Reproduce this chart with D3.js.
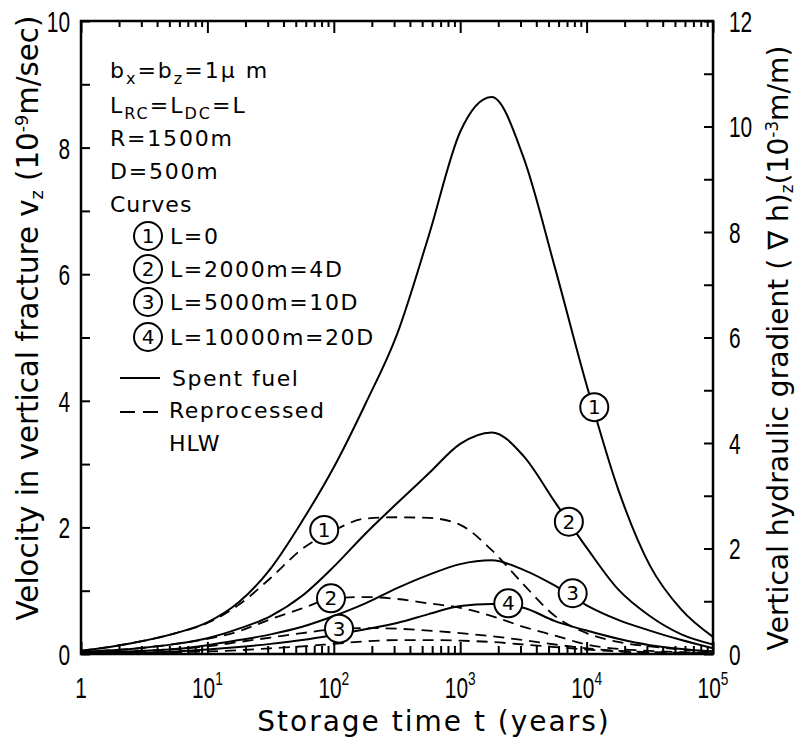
<!DOCTYPE html>
<html>
<head>
<meta charset="utf-8">
<script src="https://cdn.jsdelivr.net/npm/d3@7"></script>
<style>
  html, body { margin: 0; padding: 0; background: #fff; }
  svg { display: block; }
  text { fill: #000; }
</style>
</head>
<body>
<svg id="chart" width="797" height="746"></svg>
<script>
// ---------------- DATA ----------------
// Storage time t (years), log-spaced grid from 1 to 1e5
const timeYears = [1, 1.778, 3.162, 5.623, 10, 17.78, 31.62, 56.23, 100, 177.8, 316.2, 562.3,
                   1000, 1778, 3162, 5623, 10000, 17780, 31620, 56230, 100000];
// Velocity v_z (1e-9 m/s) - Spent fuel (solid)
const spentFuel1 = [0.05, 0.12, 0.21, 0.33, 0.50, 0.82, 1.35, 2.10, 2.95, 3.95, 5.05, 6.60, 8.25, 8.80, 7.85, 6.10, 4.25, 2.60, 1.40, 0.70, 0.27];
const spentFuel2 = [0.04, 0.06, 0.10, 0.16, 0.25, 0.40, 0.60, 0.92, 1.38, 1.90, 2.38, 2.85, 3.32, 3.50, 3.13, 2.40, 1.68, 1.02, 0.60, 0.31, 0.15];
const spentFuel3 = [0.02, 0.03, 0.05, 0.08, 0.14, 0.22, 0.31, 0.43, 0.60, 0.80, 1.04, 1.25, 1.42, 1.48, 1.33, 1.08, 0.77, 0.54, 0.37, 0.22, 0.09];
const spentFuel4 = [0.01, 0.015, 0.02, 0.04, 0.07, 0.11, 0.16, 0.22, 0.30, 0.39, 0.49, 0.63, 0.76, 0.79, 0.73, 0.52, 0.37, 0.24, 0.14, 0.08, 0.04];
// Reprocessed HLW (dashed)
const hlw1 = [0.05, 0.12, 0.21, 0.33, 0.49, 0.78, 1.20, 1.66, 1.95, 2.14, 2.16, 2.15, 2.04, 1.64, 1.10, 0.60, 0.33, 0.19, 0.12, 0.07, 0.04];
const hlw2 = [0.04, 0.06, 0.10, 0.16, 0.24, 0.36, 0.55, 0.72, 0.88, 0.90, 0.87, 0.80, 0.73, 0.60, 0.43, 0.29, 0.15, 0.08, 0.05, 0.03, 0.02];
const hlw3 = [0.02, 0.03, 0.05, 0.08, 0.12, 0.19, 0.26, 0.33, 0.39, 0.41, 0.40, 0.37, 0.33, 0.28, 0.22, 0.15, 0.09, 0.05, 0.03, 0.02, 0.01];
const hlw4 = [0.01, 0.01, 0.02, 0.03, 0.04, 0.06, 0.09, 0.12, 0.16, 0.20, 0.22, 0.22, 0.21, 0.19, 0.15, 0.11, 0.07, 0.04, 0.02, 0.01, 0.01];

// curve label markers: [curve number, t, v]
const solidLabels = [[1, 11500, 3.9], [2, 7240, 2.09], [3, 7760, 0.96], [4, 2400, 0.8]];
const dashedLabels = [[1, 84, 1.96], [2, 95, 0.88], [3, 110, 0.4]];

// axis ticks
const xDecades = [1, 10, 100, 1000, 10000, 100000];
const xDecadeExp = [0, 1, 2, 3, 4, 5];
const yLeftTicks = [0, 1, 2, 3, 4, 5, 6, 7, 8, 9, 10];
const yLeftLabels = [0, 2, 4, 6, 8, 10];
const yRightTicks = [0, 1, 2, 3, 4, 5, 6, 7, 8, 9, 10, 11, 12];
const yRightLabels = [0, 2, 4, 6, 8, 10, 12];

// legend / annotations text
const curveDefs = ["L=0", "L=2000m=4D", "L=5000m=10D", "L=10000m=20D"];

// ---------------- DRAW ----------------
const svg = d3.select("#chart");
const X0 = 81, X1 = 713, Y0 = 654, Y1 = 21;
const x = d3.scaleLog().domain([1, 1e5]).range([X0, X1]);
const y = d3.scaleLinear().domain([0, 10]).range([Y0, Y1]);
const yR = d3.scaleLinear().domain([0, 12]).range([Y0, Y1]);

const numFont = "'Liberation Sans', Arial, sans-serif";
const txtFont = "'DejaVu Sans', 'Liberation Sans', sans-serif";
const NARROW = 0.72;

// minor ticks for log axis
const minorTicks = [];
for (let e = 0; e < 5; e++) for (let m = 2; m <= 9; m++) minorTicks.push(m * Math.pow(10, e));

function styleAxis(g) {
  g.select(".domain").remove();
  g.selectAll("line").attr("stroke", "#000").attr("stroke-width", 2);
}
// bottom inward ticks
svg.append("g").attr("transform", `translate(0,${Y0})`)
  .call(d3.axisTop(x).tickValues(xDecades).tickSize(12).tickFormat("")).call(styleAxis);
svg.append("g").attr("transform", `translate(0,${Y0})`)
  .call(d3.axisTop(x).tickValues(minorTicks).tickSize(8).tickFormat("")).call(styleAxis);
// top inward ticks
svg.append("g").attr("transform", `translate(0,${Y1})`)
  .call(d3.axisBottom(x).tickValues(xDecades).tickSize(12).tickFormat("")).call(styleAxis);
svg.append("g").attr("transform", `translate(0,${Y1})`)
  .call(d3.axisBottom(x).tickValues(minorTicks).tickSize(6).tickFormat("")).call(styleAxis);
// left inward ticks
svg.append("g").attr("transform", `translate(${X0},0)`)
  .call(d3.axisRight(y).tickValues(yLeftTicks).tickSize(9).tickFormat("")).call(styleAxis);
// right inward ticks
svg.append("g").attr("transform", `translate(${X1},0)`)
  .call(d3.axisLeft(yR).tickValues(yRightTicks).tickSize(9).tickFormat("")).call(styleAxis);

// left labels (tall, narrow digits)
svg.append("g").attr("transform", `translate(${X0},0)`)
  .call(d3.axisLeft(y).tickValues(yLeftLabels).tickSize(0).tickPadding(0).tickFormat(d3.format("d")))
  .call(g => { g.select(".domain").remove();
    g.selectAll("text").attr("font-family", numFont).attr("font-size", 29).attr("fill", "#000")
      .attr("x", -11 / NARROW).attr("dy", "0.36em").attr("transform", `scale(${NARROW},1)`); });
// right labels
svg.append("g").attr("transform", `translate(${X1},0)`)
  .call(d3.axisRight(yR).tickValues(yRightLabels).tickSize(0).tickPadding(0).tickFormat(d3.format("d")))
  .call(g => { g.select(".domain").remove();
    g.selectAll("text").attr("font-family", numFont).attr("font-size", 29).attr("fill", "#000")
      .attr("x", 16 / NARROW).attr("dy", "0.36em").attr("transform", `scale(${NARROW},1)`); });
// bottom labels with superscripts
const xl = svg.append("g").attr("font-family", numFont).attr("font-size", 29);
xDecades.forEach((d, i) => {
  const t = xl.append("text").attr("x", x(d) / NARROW).attr("y", Y0 + 44)
    .attr("text-anchor", "middle").attr("transform", `scale(${NARROW},1)`);
  if (xDecadeExp[i] === 0) { t.text("1"); }
  else {
    t.append("tspan").text("10");
    t.append("tspan").attr("dy", -13).attr("font-size", 19).text(xDecadeExp[i]);
  }
});

// frame
svg.append("rect").attr("x", X0).attr("y", Y1).attr("width", X1 - X0).attr("height", Y0 - Y1)
  .attr("fill", "none").attr("stroke", "#000").attr("stroke-width", 2.5);

// curves
const line = d3.line().x(d => x(d[0])).y(d => y(d[1])).curve(d3.curveMonotoneX);
const solid = [spentFuel1, spentFuel2, spentFuel3, spentFuel4];
const dashed = [hlw1, hlw2, hlw3, hlw4];
const cg = svg.append("g").attr("fill", "none").attr("stroke", "#000");
dashed.forEach(s => cg.append("path").datum(timeYears.map((t, i) => [t, s[i]]))
  .attr("d", line).attr("stroke-width", 1.8).attr("stroke-dasharray", "11,7"));
solid.forEach(s => cg.append("path").datum(timeYears.map((t, i) => [t, s[i]]))
  .attr("d", line).attr("stroke-width", 2));

// curve markers
function marker(g, cx, cy, n) {
  g.append("circle").attr("cx", cx).attr("cy", cy).attr("r", 14)
    .attr("fill", "#fff").attr("stroke", "#000").attr("stroke-width", 2);
  g.append("text").attr("x", cx).attr("y", cy + 7).attr("text-anchor", "middle")
    .attr("font-family", txtFont).attr("font-size", 20).attr("letter-spacing", 0).text(n);
}
const mg = svg.append("g");
solidLabels.concat(dashedLabels).forEach(d => marker(mg, x(d[1]), y(d[2]), d[0]));

// annotation block
const ann = svg.append("g").attr("font-family", txtFont).attr("font-size", 22);
function addText(xp, yp, parts, ls) {
  const t = ann.append("text").attr("x", xp).attr("y", yp).attr("letter-spacing", ls);
  parts.forEach(p => {
    const ts = t.append("tspan").text(p[0]);
    if (p[1] === "sub") ts.attr("font-size", 16).attr("dy", 6);
    if (p[1] === "back") ts.attr("dy", -6);
  });
  return t;
}
addText(110, 78, [["b"], ["x", "sub"], ["=b", "back"], ["z", "sub"], ["=1μ m", "back"]], 2);
addText(110, 113, [["L"], ["RC", "sub"], ["=L", "back"], ["DC", "sub"], ["=L", "back"]], 2);
addText(110, 146, [["R=1500m"]], 1.8);
addText(110, 179, [["D=500m"]], 1.8);
addText(110, 212, [["Curves"]], 1);
const legY = [244, 277, 310, 345];
curveDefs.forEach((c, i) => {
  marker(ann, 148, legY[i] - 8, i + 1);
  ann.append("text").attr("x", 170).attr("y", legY[i]).attr("letter-spacing", 1.6).text(c);
});
ann.append("line").attr("x1", 120).attr("x2", 160).attr("y1", 378).attr("y2", 378)
  .attr("stroke", "#000").attr("stroke-width", 2);
ann.append("line").attr("x1", 120).attr("x2", 162).attr("y1", 412).attr("y2", 412)
  .attr("stroke", "#000").attr("stroke-width", 2).attr("stroke-dasharray", "15,8");
ann.append("text").attr("x", 172).attr("y", 386).attr("letter-spacing", 1.5).text("Spent fuel");
ann.append("text").attr("x", 169).attr("y", 418).attr("letter-spacing", 1.5).text("Reprocessed");
ann.append("text").attr("x", 169).attr("y", 451).attr("letter-spacing", 1).text("HLW");

// axis titles
const tf = svg.append("g").attr("font-family", txtFont);
tf.append("text").attr("x", 434).attr("y", 731).attr("text-anchor", "middle")
  .attr("font-size", 28).attr("letter-spacing", 2).text("Storage time t (years)");

function fitTitle(t, target) {
  const len = t.node().getComputedTextLength();
  const fs = +t.attr("font-size");
  t.attr("font-size", fs * target / len);
}
const lt = tf.append("text").attr("text-anchor", "middle").attr("font-size", 25)
  .attr("transform", "translate(38,318) rotate(-90)");
lt.append("tspan").text("Velocity in vertical fracture  v");
lt.append("tspan").attr("font-size", "0.6em").attr("dy", 5).text("z");
lt.append("tspan").attr("dy", -5).text(" (10");
lt.append("tspan").attr("font-size", "0.6em").attr("dy", -10).text("-9");
lt.append("tspan").attr("dy", 10).text("m/sec)");
fitTitle(lt, 605);

const rt = tf.append("text").attr("text-anchor", "middle").attr("font-size", 23)
  .attr("transform", "translate(788,348) rotate(-90)");
rt.append("tspan").text("Vertical hydraulic gradient ( ∇ h)");
rt.append("tspan").attr("font-size", "0.6em").attr("dy", 5).text("z");
rt.append("tspan").attr("dy", -5).text("(10");
rt.append("tspan").attr("font-size", "0.6em").attr("dy", -10).text("-3");
rt.append("tspan").attr("dy", 10).text("m/m)");
fitTitle(rt, 605);
</script>
</body>
</html>
